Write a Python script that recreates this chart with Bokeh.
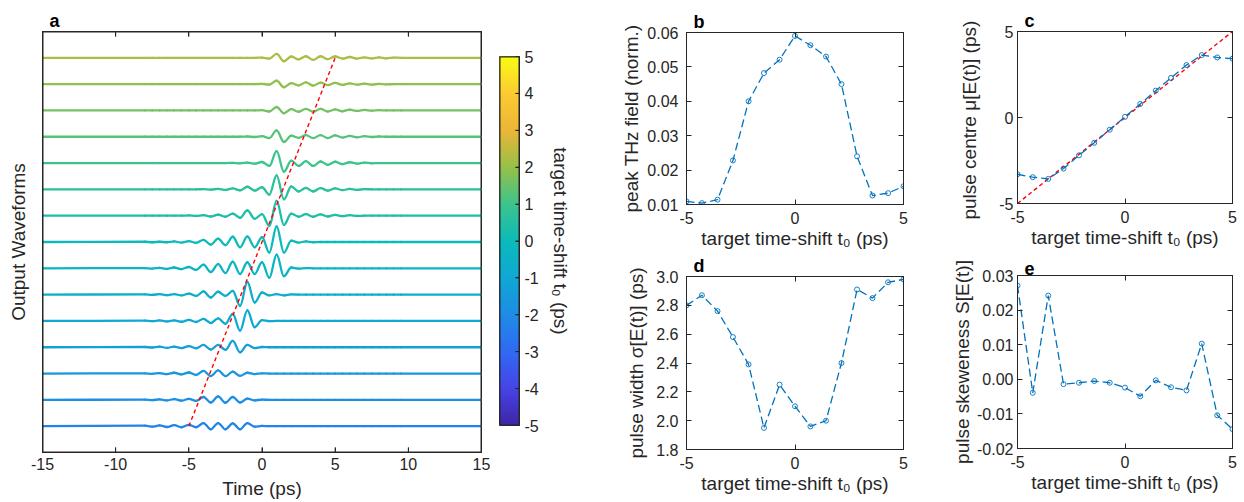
import numpy as np
from bokeh.plotting import figure
from bokeh.models import (ColumnDataSource, FixedTicker, LinearAxis,
                          Range1d, NumeralTickFormatter)
from bokeh.layouts import row, column
from bokeh.embed import file_html
from bokeh.resources import INLINE

# ---------------------------------------------------------------- data
# target time shifts t0 (ps), one per waveform / point
T0 = [-5.0, -4.29, -3.57, -2.86, -2.14, -1.43, -0.71, 0.0,
      0.71, 1.43, 2.14, 2.86, 3.57, 4.29, 5.0]

PEAK_FIELD = [0.0109, 0.0104, 0.0114, 0.0228, 0.0400, 0.0482, 0.0521, 0.0590,
              0.0563, 0.0530, 0.0450, 0.0240, 0.0126, 0.0133, 0.0153]
PULSE_CENTRE = [-3.30, -3.47, -3.57, -2.97, -2.20, -1.47, -0.71, 0.04,
                0.79, 1.56, 2.30, 3.05, 3.63, 3.49, 3.42]
PULSE_WIDTH = [2.80, 2.87, 2.76, 2.58, 2.39, 1.95, 2.25, 2.10,
               1.96, 2.00, 2.40, 2.91, 2.85, 2.96, 2.98]
PULSE_SKEW = [0.0271, -0.0039, 0.0242, -0.0014, -0.0010, -0.0005, -0.0010, -0.0024,
              -0.0049, -0.0003, -0.0023, -0.0032, 0.0103, -0.0104, -0.0144]

# times (ps) of the extrema of the output waveforms
T_EXT = [-8.0, -7.5, -7.0, -6.5, -6.0, -5.5, -5.0, -4.5, -4.0, -3.5, -3.0, -2.5,
         -2.0, -1.5, -1.0, -0.5, 0.0, 0.5, 1.0, 1.5, 2.0, 2.5, 3.0, 3.5,
         4.0, 4.5, 5.0, 5.5, 6.0, 6.5, 7.0, 7.5, 8.0, 8.5, 9.0, 9.5]

# field value at each extremum (norm.), one list per target shift
w_m500 = [0.002, -0.002, 0.003, -0.003, 0.004, -0.004, 0.005, -0.004, 0.012, -0.012, 0.012, -0.012,
          0.011, -0.012, 0.012, -0.002, 0.001, 0, 0, 0, 0, 0, 0, 0,
          0, 0, 0, 0, 0, 0, 0, 0, 0, 0, 0, 0]
w_m429 = [0.001, -0.001, 0.002, -0.002, 0.003, -0.003, 0.004, -0.004, 0.011, -0.010, 0.013, -0.011,
          0.011, -0.010, 0.005, -0.002, 0.001, 0, 0, 0, 0, 0, 0, 0,
          0, 0, 0, 0, 0, 0, 0, 0, 0, 0, 0, 0]
w_m357 = [0.001, -0.001, 0.002, -0.002, 0.003, -0.003, 0.004, -0.005, 0.010, -0.010, 0.012, -0.010,
          0.007, -0.009, 0.003, -0.002, 0.001, 0, 0, 0, 0, 0, 0, 0,
          0, 0, 0, 0, 0, 0, 0, 0, 0, 0, 0, 0]
w_m286 = [0.001, -0.001, 0.002, -0.002, 0.002, -0.003, 0.004, -0.004, 0.009, -0.009, 0.009, -0.010,
          0.024, -0.019, 0.009, -0.003, 0.001, 0, 0, 0, 0, 0, 0, 0,
          0, 0, 0, 0, 0, 0, 0, 0, 0, 0, 0, 0]
w_m214 = [0.001, -0.001, 0.002, -0.002, 0.002, -0.003, 0.004, -0.004, 0.008, -0.008, 0.010, -0.011,
          0.027, -0.037, 0.040, -0.024, 0.003, -0.001, 0, 0, 0, 0, 0, 0,
          0, 0, 0, 0, 0, 0, 0, 0, 0, 0, 0, 0]
w_m143 = [0.001, -0.001, 0.002, -0.002, 0.002, -0.003, 0.004, -0.005, 0.012, -0.011, 0.011, -0.005,
          0.014, -0.043, 0.048, -0.030, 0.008, -0.003, 0.002, -0.003, 0.001, 0, 0, 0,
          0, 0, 0, 0, 0, 0, 0, 0, 0, 0, 0, 0]
w_m071 = [0.001, -0.001, 0.002, -0.002, 0.003, -0.003, 0.005, -0.006, 0.014, -0.014, 0.016, -0.018,
          0.025, -0.022, 0.023, -0.022, 0.023, -0.036, 0.052, -0.030, 0.003, -0.001, 0.001, 0,
          0, 0, 0, 0, 0, 0, 0, 0, 0, 0, 0, 0]
w_p000 = [0.001, -0.001, 0.001, -0.001, 0.002, -0.002, 0.003, -0.003, 0.008, -0.010, 0.013, -0.012,
          0.020, -0.020, 0.021, -0.020, 0.018, -0.040, 0.059, -0.040, 0.005, -0.002, 0.002, -0.001,
          0, 0, 0, 0, 0, 0, 0, 0, 0, 0, 0, 0]
w_p071 = [0, 0, 0, 0, 0, 0, 0.001, -0.001, 0.002, -0.003, 0.004, -0.004,
          0.008, -0.008, 0.020, -0.012, 0.006, -0.039, 0.056, -0.035, 0.008, -0.004, 0.006, -0.004,
          0.005, -0.003, 0.003, -0.002, 0.002, -0.001, 0, 0, 0, 0, 0, 0]
w_p143 = [0, 0, 0, 0, 0, 0, 0, 0, 0.001, -0.001, 0.002, -0.002,
          0.004, -0.004, 0.010, -0.005, 0.008, -0.020, 0.053, -0.038, 0.011, -0.008, 0.006, -0.008,
          0.005, -0.005, 0.004, -0.003, 0.002, -0.002, 0.001, 0, 0, 0, 0, 0]
w_p214 = [0, 0, 0, 0, 0, 0, 0, 0, 0, 0, 0, 0,
          0.001, -0.001, 0.002, -0.002, 0.004, -0.011, 0.045, -0.033, 0.009, -0.011, 0.007, -0.011,
          0.006, -0.007, 0.005, -0.004, 0.003, -0.002, 0.002, -0.001, 0, 0, 0, 0]
w_p286 = [0, 0, 0, 0, 0, 0, 0, 0, 0, 0, 0, 0,
          0, 0, 0.001, -0.001, 0.002, -0.005, 0.024, -0.020, 0.004, -0.004, 0.006, -0.005,
          0.006, -0.005, 0.005, -0.003, 0.003, -0.002, 0.002, -0.001, 0.001, 0, 0, 0]
w_p357 = [0, 0, 0, 0, 0, 0, 0, 0, 0, 0, 0, 0,
          0, 0, 0, 0, 0.001, -0.004, 0.013, -0.011, 0.005, -0.005, 0.006, -0.005,
          0.006, -0.004, 0.004, -0.003, 0.003, -0.002, 0.002, -0.001, 0.001, 0, 0, 0]
w_p429 = [0, 0, 0, 0, 0, 0, 0, 0, 0, 0, 0, 0,
          0, 0, 0, 0, 0.001, -0.002, 0.013, -0.012, 0.004, -0.005, 0.007, -0.006,
          0.006, -0.004, 0.005, -0.003, 0.003, -0.002, 0.002, -0.002, 0.001, -0.001, 0, 0]
w_p500 = [0, 0, 0, 0, 0, 0, 0, 0, 0, 0, 0, 0,
          0, 0, 0, 0, 0.001, -0.003, 0.015, -0.013, 0.005, -0.006, 0.006, -0.008,
          0.006, -0.005, 0.005, -0.003, 0.003, -0.003, 0.002, -0.002, 0.002, -0.002, 0.001, 0]

WAVES = [w_m500, w_m429, w_m357, w_m286, w_m214, w_m143, w_m071, w_p000,
         w_p071, w_p143, w_p214, w_p286, w_p357, w_p429, w_p500]

# tick values
A_XTICKS = [-15, -10, -5, 0, 5, 10, 15]
CB_TICKS = [-5, -4, -3, -2, -1, 0, 1, 2, 3, 4, 5]
SHIFT_TICKS = [-5, 0, 5]
B_YTICKS = [0.01, 0.02, 0.03, 0.04, 0.05, 0.06]
C_YTICKS = [-5, 0, 5]
D_YTICKS = [1.8, 2.0, 2.2, 2.4, 2.6, 2.8, 3.0]
E_YTICKS = [-0.02, -0.01, 0.0, 0.01, 0.02, 0.03]

# ---------------------------------------------------------------- style
FONT = "Liberation Sans"
INK = "#262626"
TICK_FS = "16px"
LABEL_FS = "19px"
BLUE = "#0072BD"
ROW_SPACING = 0.1

PAL_ANCHORS = [(62, 38, 168), (70, 68, 230), (48, 106, 245), (30, 140, 230),
               (15, 168, 212), (12, 186, 186), (60, 196, 140), (150, 192, 72),
               (235, 182, 55), (252, 202, 50), (249, 251, 20)]


def cmap(f):
    f = min(max(f, 0.0), 1.0)
    pos = f * (len(PAL_ANCHORS) - 1)
    i = min(int(pos), len(PAL_ANCHORS) - 2)
    r = pos - i
    a, b = PAL_ANCHORS[i], PAL_ANCHORS[i + 1]
    c = [int(round(a[k] + (b[k] - a[k]) * r)) for k in range(3)]
    return "#%02x%02x%02x" % tuple(c)


def style_axis(ax, standoff=5, label_standoff=4):
    ax.major_tick_in = 5
    ax.major_tick_out = 0
    ax.minor_tick_line_color = None
    ax.axis_line_color = INK
    ax.major_tick_line_color = INK
    ax.major_label_text_font = FONT
    ax.major_label_text_font_size = TICK_FS
    ax.major_label_text_color = INK
    ax.major_label_standoff = standoff
    ax.axis_label_text_font = FONT
    ax.axis_label_text_font_size = LABEL_FS
    ax.axis_label_text_font_style = "normal"
    ax.axis_label_text_color = INK
    ax.axis_label_standoff = label_standoff


def mirror(p, side, ticks):
    ax = LinearAxis(ticker=FixedTicker(ticks=ticks))
    style_axis(ax, standoff=0, label_standoff=0)
    ax.major_label_text_font_size = "0px"
    p.add_layout(ax, side)


def glyph_frame(p, xr, yr, fw, fh, bottom=(), top=(), right=(), tick_px=5):
    """Box and inward ticks drawn as glyphs (frame size in px)."""
    hx = 0.5 * (xr[1] - xr[0]) / fw
    hy = 0.5 * (yr[1] - yr[0]) / fh
    p.quad(left=[xr[0] + hx], right=[xr[1] - hx], bottom=[yr[0] + hy],
           top=[yr[1] - hy], fill_color=None, line_color=INK, line_width=1)
    ty = tick_px * (yr[1] - yr[0]) / fh
    tx = tick_px * (xr[1] - xr[0]) / fw
    if bottom:
        p.segment(x0=list(bottom), y0=[yr[0]] * len(bottom), x1=list(bottom),
                  y1=[yr[0] + ty] * len(bottom), line_color=INK, line_width=1)
    if top:
        p.segment(x0=list(top), y0=[yr[1]] * len(top), x1=list(top),
                  y1=[yr[1] - ty] * len(top), line_color=INK, line_width=1)
    if right:
        p.segment(x0=[xr[1] - tx] * len(right), y0=list(right),
                  x1=[xr[1]] * len(right), y1=list(right), line_color=INK, line_width=1)


def base_fig(x_range, y_range, w, h, ml, mr, mt, mb, letter):
    p = figure(x_range=x_range, y_range=y_range, width=w, height=h,
               min_border_left=ml, min_border_right=mr, min_border_top=mt,
               min_border_bottom=mb, output_backend="svg", toolbar_location=None,
               title=letter)
    p.grid.visible = False
    p.outline_line_color = INK
    p.outline_line_width = 1
    p.background_fill_color = "white"
    p.border_fill_color = "white"
    p.title.align = "left"
    p.title.offset = 7
    p.title.standoff = 2
    p.title.text_font = FONT
    p.title.text_font_size = "18px"
    p.title.text_font_style = "bold"
    p.title.text_color = "black"
    return p


# ---------------------------------------------------------------- panel a
A_XR, A_YR = (-15, 15), (-0.1, 1.5)
pa = base_fig(Range1d(*A_XR), Range1d(*A_YR), 490, 502, 42, 9, 31, 50, "a")
for i, (t0, w) in enumerate(zip(T0, WAVES)):
    xs = np.array([-15.0] + T_EXT + [15.0])
    amps = np.array([0.0] + list(w) + [0.0])
    ys = i * ROW_SPACING + amps
    x0, x1 = xs[:-1], xs[1:]
    dx = x1 - x0
    src = ColumnDataSource(dict(x0=x0, x1=x1, y0=ys[:-1], y1=ys[1:],
                                cx0=x0 + 0.3642 * dx, cx1=x1 - 0.3642 * dx,
                                cy0=ys[:-1], cy1=ys[1:]))
    pa.bezier(x0="x0", y0="y0", x1="x1", y1="y1", cx0="cx0", cy0="cy0",
              cx1="cx1", cy1="cy1", source=src,
              line_color=cmap(0.5 + 0.045 * t0), line_width=2.3, line_cap="round")
pa.line([T0[0], T0[-1]], [0.0, (len(T0) - 1) * ROW_SPACING],
        line_color="#ff0000", line_width=1.4, line_dash="4 3")
glyph_frame(pa, A_XR, A_YR, 439, 421, bottom=A_XTICKS, top=A_XTICKS)
style_axis(pa.xaxis[0], standoff=5, label_standoff=5)
pa.xaxis[0].ticker = FixedTicker(ticks=A_XTICKS)
pa.xaxis[0].major_label_overrides = {v: str(v) for v in A_XTICKS}
pa.xaxis[0].axis_label = "Time (ps)"
style_axis(pa.yaxis[0], standoff=0, label_standoff=14)
pa.yaxis[0].ticker = FixedTicker(ticks=[])
pa.yaxis[0].axis_label = "Output Waveforms"
mirror(pa, "above", A_XTICKS)

# ---------------------------------------------------------------- colorbar
CB_XR, CB_YR = (0, 1), (-5, 5)
pc = figure(x_range=Range1d(*CB_XR), y_range=Range1d(*CB_YR), width=110, height=502,
            min_border_left=9, min_border_right=81, min_border_top=56,
            min_border_bottom=77, output_backend="svg", toolbar_location=None,
            x_axis_type=None, y_axis_type=None)
pc.grid.visible = False
pc.outline_line_color = INK
pc.border_fill_color = "white"
NB = 256
grad = np.linspace(0, 1, NB).reshape(NB, 1)
pc.image(image=[grad], x=0, y=-5, dw=1, dh=10,
         palette=[cmap(k / (NB - 1)) for k in range(NB)])
glyph_frame(pc, CB_XR, CB_YR, 20, 369, right=CB_TICKS[1:-1], tick_px=4)
cax = LinearAxis(ticker=FixedTicker(ticks=CB_TICKS))
style_axis(cax, standoff=5, label_standoff=8)
cax.major_tick_in = 4
cax.major_label_overrides = {v: str(v) for v in CB_TICKS}
cax.axis_label = "target time-shift t\u2080 (ps)"
pc.add_layout(cax, "right")


# ---------------------------------------------------------------- small panels
def small(yr, yticks, fmt, ylabel, ydata, let, w, h, ml, mr, mt, mb,
          ystand, ylstand, ident=False):
    p = base_fig(Range1d(-5, 5), Range1d(*yr), w, h, ml, mr, mt, mb, let)
    if ident:
        p.line([T0[0], T0[-1]], [T0[0], T0[-1]], line_color="#ff0000",
               line_width=1.4, line_dash="4 3")
    p.line(T0, ydata, line_color=BLUE, line_width=1.3, line_dash="8 4")
    p.scatter(T0, ydata, size=5, marker="circle", fill_color=None,
              line_color=BLUE, line_width=0.9)
    style_axis(p.xaxis[0], standoff=7, label_standoff=1)
    p.xaxis[0].ticker = FixedTicker(ticks=SHIFT_TICKS)
    p.xaxis[0].major_label_overrides = {v: str(v) for v in SHIFT_TICKS}
    p.xaxis[0].axis_label = "target time-shift t\u2080 (ps)"
    style_axis(p.yaxis[0], standoff=ystand, label_standoff=ylstand)
    p.yaxis[0].ticker = FixedTicker(ticks=yticks)
    if fmt is None:
        p.yaxis[0].major_label_overrides = {v: str(v) for v in yticks}
    else:
        p.yaxis[0].formatter = NumeralTickFormatter(format=fmt)
    p.yaxis[0].axis_label = ylabel
    mirror(p, "above", SHIFT_TICKS)
    mirror(p, "right", yticks)
    return p


pb = small((0.01, 0.06), B_YTICKS, "0.00", "peak THz field (norm.)", PEAK_FIELD,
           "b", 330, 252, 86, 27, 32, 48, 8, 2)
pd = small((1.8, 3.0), D_YTICKS, "0.0", "pulse width \u03c3[E(t)] (ps)", PULSE_WIDTH,
           "d", 330, 248, 86, 27, 23, 51, 8, 6)
pcc = small((-5, 5), C_YTICKS, None, "pulse centre \u03bc[E(t)]  (ps)", PULSE_CENTRE,
            "c", 314, 252, 86, 12, 31, 49, 4, 16, ident=True)
pe = small((-0.02, 0.03), E_YTICKS, "0.00", "pulse skeweness S[E(t)]", PULSE_SKEW,
           "e", 314, 248, 87, 11, 23, 52, 4, 1)

layout = row(column(pa), column(pc), column(pb, pd), column(pcc, pe))

html = file_html(layout, INLINE, title="THz waveforms")
html = html.replace("<head>", "<head><style>html,body{overflow:hidden;}</style>", 1)
open("out.html", "w").write(html)
